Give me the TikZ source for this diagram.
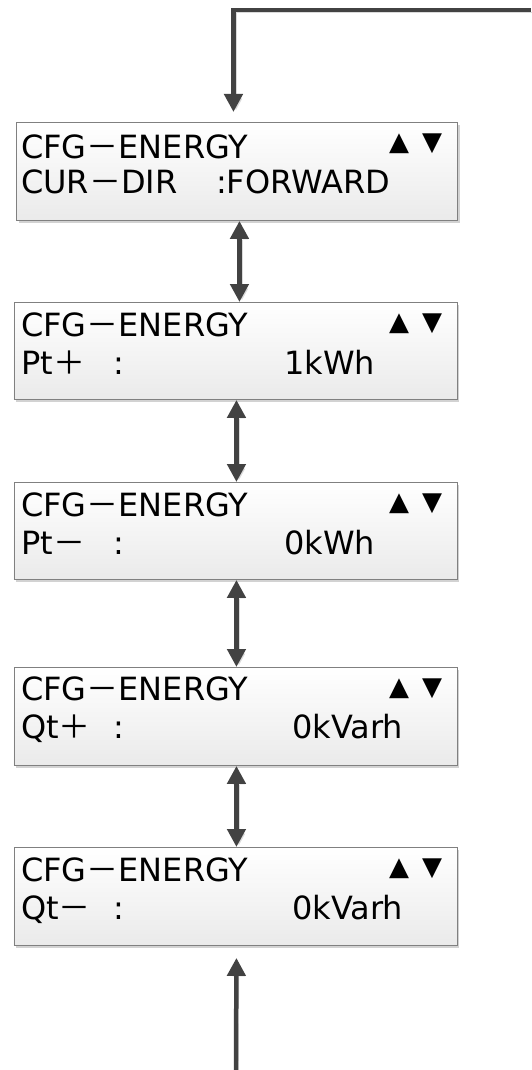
\documentclass[tikz,border=0pt]{standalone}
\usepackage{fontspec}
\setmainfont{DejaVu Sans}
\newfontfamily\cjk{Noto Sans CJK JP}
\usetikzlibrary{arrows.meta,shadows}
\definecolor{conngray}{HTML}{424242}
\definecolor{connshadow}{HTML}{DADADA}
\definecolor{boxborder}{HTML}{808080}
\definecolor{boxbottom}{HTML}{EAEAEA}
\definecolor{boxshadow}{HTML}{D2D2D2}
\tikzset{
  panel/.style={anchor=north west, draw=boxborder, line width=0.9pt,
    top color=white, bottom color=boxbottom, inner sep=0pt,
    drop shadow={shadow xshift=2.5pt, shadow yshift=-2.5pt, fill=boxshadow, opacity=1}},
  txt/.style={anchor=base west, inner sep=0pt, font=\fontsize{32}{36}\selectfont},
  tri/.style={anchor=center, inner sep=0pt, font=\fontsize{26}{30}\selectfont},
  conn/.style={line width=4.5pt, draw=conngray,
    preaction={draw=connshadow, transform canvas={shift={(2.5,2.5)}}}},
  onehead/.style={-{Triangle[width=18pt,length=18pt]}},
  twohead/.style={{Triangle[width=18pt,length=18pt]}-{Triangle[width=18pt,length=18pt]}},
}
\newcommand\dsh{{\cjk －}}
\newcommand\pls{{\cjk ＋}}
\begin{document}
\begin{tikzpicture}[x=1pt,y=-1pt]
\useasboundingbox (0,0) rectangle (531,1070);
% boxes
\node[panel, minimum width=441pt, minimum height=98pt] (b1) at (16,122) {};
\node[panel, minimum width=443pt, minimum height=97pt] (b2) at (13.5,302) {};
\node[panel, minimum width=443pt, minimum height=97pt] (b3) at (13.5,482) {};
\node[panel, minimum width=443pt, minimum height=98pt] (b4) at (13.5,667) {};
\node[panel, minimum width=443pt, minimum height=98pt] (b5) at (13.5,847) {};
% box 1 text
\node[txt] (b1a) at (21,158) {CFG\dsh ENERGY};
\node[tri] (b1u) at (399,144) {▲};
\node[tri] (b1d) at (432,144) {▼};
\node[txt] (b1b) at (21,193) {CUR\dsh DIR};
\node[txt] (b1c) at (216,193) {:FORWARD};
% box 2 text
\node[txt] (b2a) at (21,336) {CFG\dsh ENERGY};
\node[tri] (b2u) at (399,324) {▲};
\node[tri] (b2d) at (432,324) {▼};
\node[txt] (b2b) at (21,374) {Pt\pls};
\node[txt] (b2c) at (113,374) {:};
\node[txt] (b2v) at (284,374) {1kWh};
% box 3 text
\node[txt] (b3a) at (21,516) {CFG\dsh ENERGY};
\node[tri] (b3u) at (399,504) {▲};
\node[tri] (b3d) at (432,504) {▼};
\node[txt] (b3b) at (21,554) {Pt\dsh};
\node[txt] (b3c) at (113,554) {:};
\node[txt] (b3v) at (284,554) {0kWh};
% box 4 text
\node[txt] (b4a) at (21,700) {CFG\dsh ENERGY};
\node[tri] (b4u) at (399,689) {▲};
\node[tri] (b4d) at (432,689) {▼};
\node[txt] (b4b) at (21,738) {Qt\pls};
\node[txt] (b4c) at (113,738) {:};
\node[txt] (b4v) at (292,738) {0kVarh};
% box 5 text
\node[txt] (b5a) at (21,881) {CFG\dsh ENERGY};
\node[tri] (b5u) at (399,869) {▲};
\node[tri] (b5d) at (432,869) {▼};
\node[txt] (b5b) at (21,919) {Qt\dsh};
\node[txt] (b5c) at (113,919) {:};
\node[txt] (b5v) at (292,919) {0kVarh};
% connectors
\coordinate (tstart) at (531,10);
\coordinate (bstart) at (236,1070);
\draw[conn, onehead] (tstart) -| ([xshift=-3.5pt,yshift=10pt]b1.north);
\draw[conn, twohead] ([xshift=2.5pt]b1.south) -- ([xshift=2.5pt]b1.south |- b2.north);
\draw[conn, twohead] ([xshift=1pt]b2.south) -- ([xshift=1pt]b3.north);
\draw[conn, twohead] ([xshift=1pt]b3.south) -- ([xshift=1pt]b4.north);
\draw[conn, twohead] ([xshift=1pt]b4.south) -- ([xshift=1pt]b5.north);
\draw[conn, onehead] (bstart) -- ([xshift=1pt,yshift=-12pt]b5.south);
\end{tikzpicture}
\end{document}
